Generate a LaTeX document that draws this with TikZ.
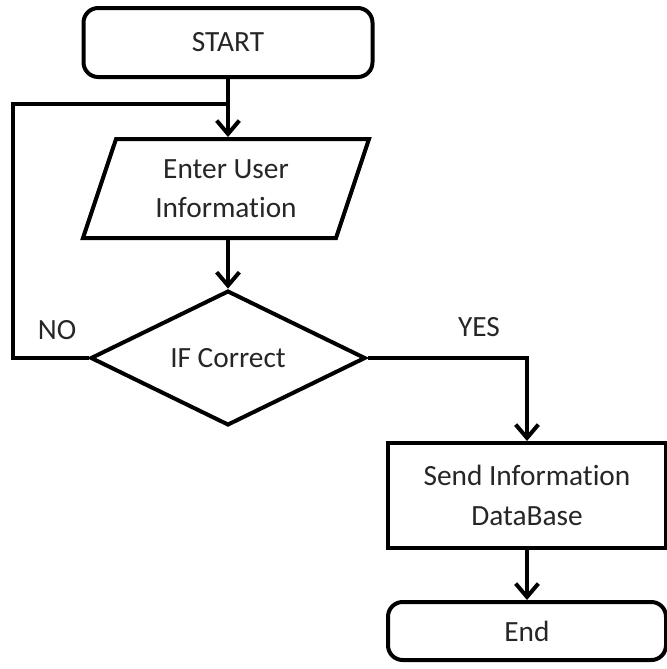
\documentclass[tikz,border=0pt]{standalone}
\usepackage{fontspec}
\setmainfont{Carlito}[Ligatures=NoCommon]
\usetikzlibrary{shapes.geometric,arrows.meta}

\definecolor{txtgray}{RGB}{38,38,38}

\tikzset{
  shp/.style={draw, line width=3pt, text=txtgray, align=center, inner sep=0pt,
    font=\fontsize{22}{29.5}\selectfont},
  termbox/.style={shp, rounded corners=11pt},
  procbox/.style={shp},
  iobox/.style={shp, trapezium, trapezium left angle=60.5, trapezium right angle=119.5,
    trapezium stretches body},
  decbox/.style={shp, diamond},
  lbl/.style={text=txtgray, inner sep=0pt, font=\fontsize{22}{29.5}\selectfont},
  link/.style={line width=3pt},
  flow/.style={link, -{Straight Barb[length=10pt, width=17pt, line width=3pt]}}
}

\begin{document}
\begin{tikzpicture}[x=0.75pt,y=0.75pt,yscale=-1,xscale=1]
\useasboundingbox (0,0) rectangle (667,669);

%Shape: Rounded Rect
\node [termbox, minimum width=216.75pt, minimum height=51.75pt] (start) at (228,42.5) {START};
%Shape: Parallelogram
\node [iobox, minimum width=214.5pt, minimum height=74.25pt] (input) at (226,188.5) {Enter User\\Information};
%Shape: Diamond
\node [decbox, minimum width=206.25pt, minimum height=97.5pt] (check) at (228,358) {IF Correct};
%Shape: Rectangle
\node [procbox, minimum width=208.5pt, minimum height=78.75pt] (send) at (527,495.5) {Send Information\\DataBase};
%Shape: Rounded Rect
\node [termbox, minimum width=208.5pt, minimum height=43.5pt] (end) at (527,631) {End};

% Text Node
\node [lbl] (no) at (57,330) {NO};
% Text Node
\node [lbl] (yes) at (479,327) {YES};

\coordinate (back) at (13,104);
\coordinate (join) at (228,104);

%Straight Lines
\draw [flow] (start) -- (input.north -| start);
\draw [flow] (input.south -| check) -- (check);
\draw [link] (check.west) -| (back) -- (join);
\draw [flow] (check.east) -| (send.north);
\draw [flow] (send) -- (end);

\end{tikzpicture}
\end{document}
